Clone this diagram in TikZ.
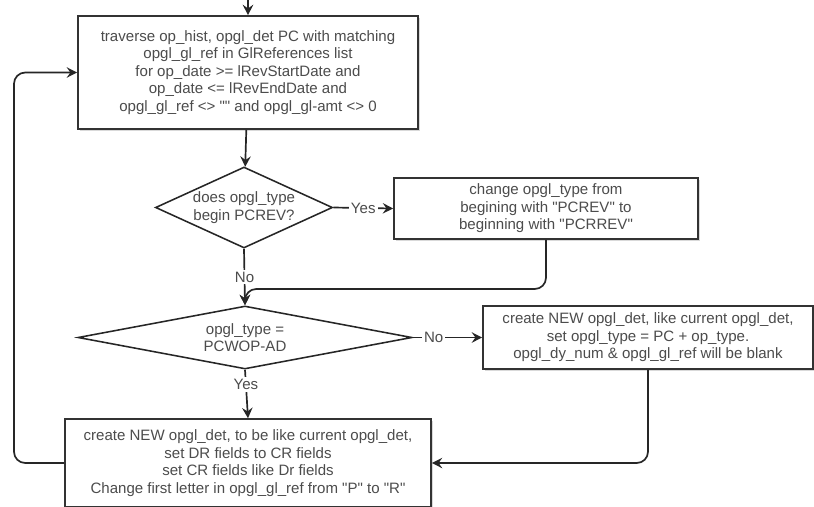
\documentclass[tikz,border=0pt]{standalone}
\usepackage{fontspec}
\setmainfont{Liberation Sans}
\usetikzlibrary{arrows.meta,shapes.geometric,shadows}
\newcommand{\qt}[1]{\textquotedbl#1\textquotedbl}

\begin{document}
\begin{tikzpicture}[x=0.025cm,y=-0.025cm,>={Stealth[length=2.6mm,width=2.6mm,inset=0.9mm]},font=\fontsize{10.7}{12.4}\selectfont,line width=1.2pt,draw=black!85]
\tikzstyle{box}=[draw=black!80,fill=white,line width=1.1pt,align=center,text=black!70,inner sep=2pt,drop shadow={shadow xshift=1.6pt,shadow yshift=-1.6pt,opacity=0.3}]
\tikzstyle{dec}=[diamond,draw=black!85,fill=white,line width=1.1pt,align=center,text=black!70,inner sep=0pt]
\tikzstyle{lbl}=[fill=white,inner sep=1.5pt,text=black!70]
\useasboundingbox (0,0) rectangle (814,506);
\node[box,minimum width=8.5cm,minimum height=2.825cm] (trav) at (248,72.5) {traverse op\_hist, opgl\_det PC with matching\\opgl\_gl\_ref in GlReferences list\\for op\_date >= lRevStartDate and\\op\_date <= lRevEndDate and\\opgl\_gl\_ref <> \qt{} and opgl\_gl-amt <> 0};
\node[dec,aspect=2.2,minimum width=4.425cm,minimum height=2.025cm] (isrev) at (244,207.5) {does opgl\_type\\begin PCREV?};
\node[box,minimum width=7.6cm,minimum height=1.525cm] (chg) at (546,208.5) {change opgl\_type from\\begining with \qt{PCREV} to\\beginning with \qt{PCRREV}};
\node[dec,aspect=5.3,minimum width=8.35cm,minimum height=1.575cm] (iswop) at (245,337.5) {opgl\_type =\\PCWOP-AD};
\node[box,minimum width=8.25cm,minimum height=1.575cm] (newpc) at (648,337.5) {create NEW opgl\_det, like current opgl\_det,\\set opgl\_type = PC + op\_type.\\opgl\_dy\_num \& opgl\_gl\_ref will be blank};
\node[box,minimum width=9.15cm,minimum height=2.2cm] (newdr) at (248,463) {create NEW opgl\_det, to be like current opgl\_det,\\set DR fields to CR fields\\set CR fields like Dr fields\\Change first letter in opgl\_gl\_ref from \qt{P} to \qt{R}};
\coordinate (in) at (248,0); \coordinate (mrg) at (245,289); \coordinate (lb) at (14,463);
\draw[->] (in) -- (trav);
\draw[->] (trav) -- (isrev);
\draw[->] (isrev.east) -- node[lbl] {Yes} (chg.west);
\draw[->] (isrev.south) -- node[lbl] {No} (iswop.north);
\draw[->,rounded corners=8] (chg.south) |- (mrg) -- (iswop.north);
\draw[->] (iswop.east) -- node[lbl,pos=0.3] {No} (newpc.west);
\draw[->] (iswop.south) -- node[lbl,pos=0.3] {Yes} (newdr.north);
\draw[->,rounded corners=8] (newpc.south) |- (newdr.east);
\draw[->,rounded corners=8] (newdr.west) -- (lb) |- (trav.west);
\end{tikzpicture}
\end{document}
